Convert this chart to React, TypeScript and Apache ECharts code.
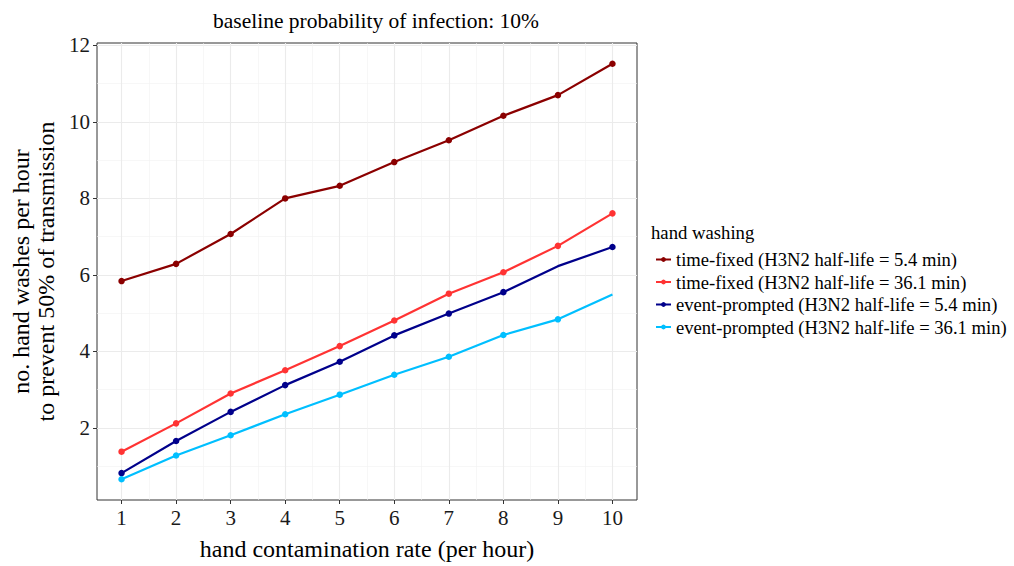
import React, { useEffect, useRef } from "react";
import * as echarts from "echarts";

const contaminationRates = [1, 2, 3, 4, 5, 6, 7, 8, 9, 10];
const timeFixedShort = [5.84, 6.29, 7.07, 8.0, 8.33, 8.95, 9.52, 10.16, 10.7, 11.52];
const timeFixedLong = [1.38, 2.12, 2.9, 3.51, 4.14, 4.81, 5.51, 6.07, 6.76, 7.61];
const eventShort = [0.82, 1.66, 2.42, 3.12, 3.73, 4.42, 4.99, 5.55, 6.23, 6.73];
const eventLong = [0.66, 1.28, 1.81, 2.36, 2.87, 3.39, 3.86, 4.43, 4.84, 5.49];

const seriesNames = [
  "time-fixed (H3N2 half-life = 5.4 min)",
  "time-fixed (H3N2 half-life = 36.1 min)",
  "event-prompted (H3N2 half-life = 5.4 min)",
  "event-prompted (H3N2 half-life = 36.1 min)",
];
// indices of points drawn without a marker in the reference
const unmarkedIndices = [[], [], [8], [9]];

const xTicks = [1, 2, 3, 4, 5, 6, 7, 8, 9, 10];
const xMinorTicks = [1.5, 2.5, 3.5, 4.5, 5.5, 6.5, 7.5, 8.5, 9.5];
const yTicks = [2, 4, 6, 8, 10, 12];
const yMinorTicks = [1, 3, 5, 7, 9, 11];

const titleText = "baseline probability of infection: 10%";
const xTitle = "hand contamination rate (per hour)";
const yTitle = "no. hand washes per hour\nto prevent 50% of transmission";
const legendTitle = "hand washing";

const colors = ["#8B0000", "#FF3333", "#00008B", "#00BFFF"];
const FONT = "'Liberation Serif', 'Times New Roman', serif";

export default function App() {
  const ref = useRef<HTMLDivElement>(null);
  useEffect(() => {
    if (!ref.current) return;
    const chart = echarts.init(ref.current, undefined, { renderer: "svg" });
    const allSeries = [timeFixedShort, timeFixedLong, eventShort, eventLong];
    const xMin = 0.55, xMax = 10.45;
    const allVals = allSeries.flat();
    const lo = Math.min(...allVals), hi = Math.max(...allVals);
    const yMin = lo - (hi - lo) * 0.05, yMax = hi + (hi - lo) * 0.05;

    const gridCommon = { left: 97, top: 43, width: 540, height: 462 };
    const hiddenAxisParts = {
      axisLine: { show: false },
      axisLabel: { show: false },
    };

    chart.setOption({
      animation: false,
      backgroundColor: "#ffffff",
      textStyle: { fontFamily: FONT },
      title: {
        text: titleText,
        left: 371,
        top: 5,
        textAlign: "center",
        textStyle: { fontFamily: FONT, fontSize: 21.5, fontWeight: "normal", color: "#000" },
      },
      grid: { ...gridCommon, show: true, borderColor: "#333333", borderWidth: 1, backgroundColor: "#fff" },
      xAxis: [
        {
          type: "value",
          min: xMin,
          max: xMax,
          name: xTitle,
          nameLocation: "middle",
          nameGap: 37,
          nameTextStyle: { fontFamily: FONT, fontSize: 24, color: "#000" },
          axisLine: { show: false },
          axisTick: { show: true, length: 4, lineStyle: { color: "#333", width: 1 }, customValues: xTicks },
          axisLabel: { customValues: xTicks, fontFamily: FONT, fontSize: 21, color: "#1a1a1a", margin: 7 },
          splitLine: { show: true, lineStyle: { color: "#EBEBEB", width: 1.1 } },
        },
        {
          type: "value",
          min: xMin,
          max: xMax,
          position: "bottom",
          ...hiddenAxisParts,
          axisTick: { show: false, customValues: xMinorTicks },
          splitLine: { show: true, lineStyle: { color: "#F2F2F2", width: 0.6 } },
        },
      ],
      yAxis: [
        {
          type: "value",
          min: yMin,
          max: yMax,
          name: yTitle,
          nameLocation: "middle",
          nameGap: 39,
          nameRotate: 90,
          nameTextStyle: { fontFamily: FONT, fontSize: 24, color: "#000", lineHeight: 25 },
          axisLine: { show: false },
          axisTick: { show: true, length: 4, lineStyle: { color: "#333", width: 1 }, customValues: yTicks },
          axisLabel: { customValues: yTicks, fontFamily: FONT, fontSize: 21, color: "#1a1a1a", margin: 7 },
          splitLine: { show: true, lineStyle: { color: "#EBEBEB", width: 1.1 } },
        },
        {
          type: "value",
          min: yMin,
          max: yMax,
          position: "left",
          ...hiddenAxisParts,
          axisTick: { show: false, customValues: yMinorTicks },
          splitLine: { show: true, lineStyle: { color: "#F2F2F2", width: 0.6 } },
        },
      ],
      legend: {
        orient: "vertical",
        left: 650,
        top: 245,
        itemWidth: 15,
        itemHeight: 6,
        itemGap: 3.5,
        data: seriesNames,
        textStyle: { fontFamily: FONT, fontSize: 18.6, color: "#000", lineHeight: 17.6 },
      },
      graphic: [
        {
          type: "text",
          left: 651,
          top: 223,
          style: { text: legendTitle, fontFamily: FONT, fontSize: 18.7, fill: "#000" },
        },
      ],
      series: allSeries.map((vals, si) => ({
        name: seriesNames[si],
        type: "line",
        xAxisIndex: 0,
        yAxisIndex: 0,
        symbol: "circle",
        symbolSize: 6.5,
        color: colors[si],
        lineStyle: { width: 2.2, color: colors[si] },
        itemStyle: { color: colors[si] },
        data: vals.map((v, i) =>
          (unmarkedIndices[si] as number[]).includes(i)
            ? { value: [contaminationRates[i], v], symbol: "none" }
            : { value: [contaminationRates[i], v] }
        ),
      })),
    });
    return () => chart.dispose();
  }, []);
  return (
    <div
      ref={ref}
      style={{ position: "fixed", left: 0, top: 0, width: 1014, height: 566 }}
    />
  );
}
